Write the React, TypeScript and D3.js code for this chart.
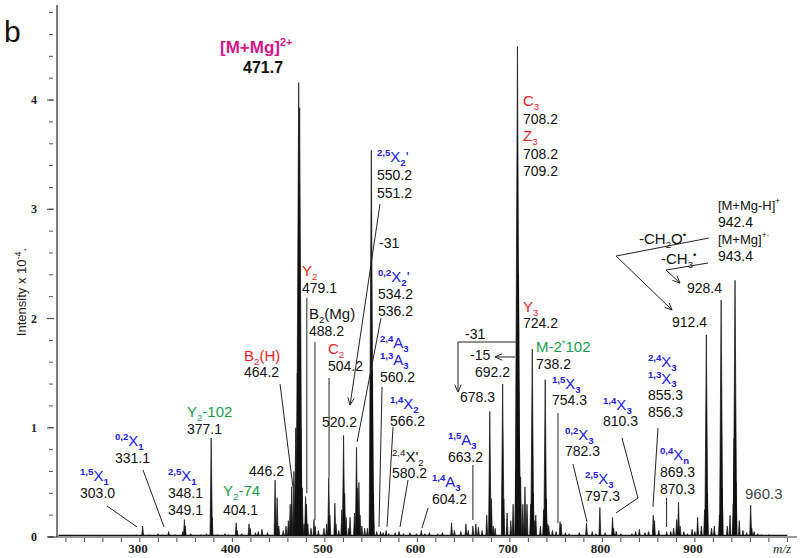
import React from "react";
import * as d3 from "d3";

const W = 800;
const H = 558;

// ---------- data (m/z, intensity x 10^-4) ----------
const majorPeaks: [number, number][] = [
  [303.0, 0.10], [319.5, 0.03], [331.1, 0.05], [346.5, 0.05], [348.1, 0.16], [349.1, 0.10],
  [377.1, 0.906], [378.1, 0.18], [404.1, 0.13], [405.1, 0.06], [418.0, 0.12], [419.2, 0.08],
  [432.0, 0.07], [446.2, 0.52], [448.4, 0.36], [450.2, 0.10], [460.5, 0.15], [462.5, 0.30],
  [464.2, 0.46], [466.5, 0.6], [468.5, 1.0], [470.2, 1.5], [471.7, 4.16], [472.7, 3.93],
  [474.0, 1.0], [475.5, 0.45], [477.5, 0.12], [479.1, 0.37], [480.1, 0.30], [481.5, 0.12],
  [488.2, 0.16], [489.5, 0.10], [502.0, 0.12], [504.2, 0.54], [505.4, 0.20], [510.8, 0.31],
  [512.0, 0.12], [518.3, 0.25], [520.2, 0.93], [521.4, 0.40], [523.0, 0.18], [527.2, 0.18],
  [532.0, 0.22], [534.2, 0.82], [535.4, 0.45], [536.8, 0.50], [538.0, 0.20], [546.0, 0.08],
  [549.0, 0.30], [550.2, 3.54], [551.2, 1.5], [552.5, 0.40], [560.2, 0.05], [566.2, 0.06],
  [580.2, 0.05], [604.2, 0.06], [637.0, 0.13], [652.5, 0.12], [660.0, 0.10], [663.2, 0.12],
  [666.0, 0.09], [675.0, 0.20], [678.3, 1.15], [680.0, 0.35], [682.0, 0.10], [692.2, 1.4],
  [693.4, 0.35], [697.0, 0.22], [703.5, 0.30], [706.5, 0.6], [707.3, 1.0], [708.2, 4.49],
  [709.2, 2.4], [710.3, 0.9], [711.6, 0.55], [714.0, 0.30], [716.3, 0.46], [718.5, 0.30],
  [722.5, 0.30], [724.2, 1.72], [725.3, 0.40], [727.0, 0.15], [736.5, 0.25], [738.2, 1.44],
  [739.4, 0.35], [741.0, 0.12], [754.3, 0.14], [755.3, 0.12], [782.8, 0.13], [797.3, 0.27],
  [811.0, 0.18], [812.2, 0.08], [840.0, 0.07], [855.0, 0.20], [856.3, 0.15], [869.5, 0.05],
  [880.3, 0.16], [882.3, 0.32], [884.0, 0.10], [897.0, 0.07], [903.0, 0.18], [910.5, 0.25],
  [912.4, 1.85], [913.5, 0.40], [926.5, 0.20], [928.4, 2.17], [929.5, 0.45], [941.5, 0.30],
  [942.4, 0.9], [943.4, 2.35], [944.5, 0.50], [960.3, 0.29], [961.5, 0.08],
];

const noisePeaks: [number, number][] = [
  [225, 0.01], [240, 0.012], [256, 0.01], [270, 0.015], [285, 0.012], [296, 0.02], [310, 0.02],
  [315, 0.015], [324, 0.02], [338, 0.02], [355, 0.03], [366, 0.02], [372, 0.03], [384, 0.02],
  [392, 0.03], [396, 0.02], [410, 0.03], [425, 0.04], [428, 0.05], [438, 0.04], [455, 0.06],
  [458, 0.1], [485, 0.08], [493, 0.06], [499, 0.08], [515, 0.06], [526, 0.08], [540, 0.1],
  [543, 0.08], [556, 0.05], [563, 0.04], [569, 0.03], [576, 0.04], [585, 0.03], [592, 0.04],
  [599, 0.03], [608, 0.03], [613, 0.04], [622, 0.03], [627, 0.04], [640, 0.06], [647, 0.05],
  [655, 0.06], [670, 0.06], [684, 0.08], [701, 0.15], [728, 0.2], [733, 0.1], [742, 0.1],
  [746, 0.06], [750, 0.05], [760, 0.04], [764, 0.03], [775, 0.04], [789, 0.05], [793, 0.03],
  [803, 0.04], [815, 0.05], [820, 0.03], [832, 0.03], [836, 0.05], [846, 0.04], [850, 0.05],
  [861, 0.06], [874, 0.05], [877, 0.08], [888, 0.05], [892, 0.03], [900, 0.05], [907, 0.1],
  [918, 0.08], [921, 0.1], [935, 0.1], [938, 0.2], [948, 0.15], [952, 0.06], [956, 0.04],
  [964, 0.05], [968, 0.03], [972, 0.02], [980, 0.02], [990, 0.01],
];

const xMajorTicks = [300, 400, 500, 600, 700, 800, 900];
const xMinorTicks = d3.range(220, 1001, 20);
const yMajorTicks = [0, 1, 2, 3, 4];
const yMinorTicks = d3.range(0, 4.81, 0.2);

// annotation text blocks: left m/z, intensity of first line centre, line gap (px), lines
type Line = [string, string];
type Block = { mz: number; v: number; gap?: number; lines: Line[] };
const labelBlocks: Block[] = [
  { mz: 386.6, v: 4.485, lines: [["[M+Mg]^{2+}", "mag"]] },
  { mz: 411.5, v: 4.300, lines: [["471.7", "bold"]] },
  { mz: 714.2, v: 3.991, gap: 17.5, lines: [["C_{3}", "red"], ["708.2", "num"], ["Z_{3}", "red"], ["708.2", "num"], ["709.2", "num"]] },
  { mz: 556.3, v: 3.479, gap: 18, lines: [["^{2,5}X_{2}'", "blue"], ["550.2", "num"], ["551.2", "num"]] },
  { mz: 558.5, v: 2.691, lines: [["-31", "num"]] },
  { mz: 557.4, v: 2.380, gap: 17, lines: [["^{0,2}X_{2}'", "blue"], ["534.2", "num"], ["536.2", "num"]] },
  { mz: 559.6, v: 1.776, gap: 17, lines: [["^{2,4}A_{3}", "blue"], ["^{1,3}A_{3}", "blue"], ["560.2", "num"]] },
  { mz: 475.3, v: 2.435, gap: 16.5, lines: [["Y_{2}", "red"], ["479.1", "num"]] },
  { mz: 482.8, v: 2.041, gap: 17, lines: [["B_{2}(Mg)", "black"], ["488.2", "num"]] },
  { mz: 412.6, v: 1.657, gap: 16, lines: [["B_{2}(H)", "red"], ["464.2", "num"]] },
  { mz: 503.4, v: 1.721, gap: 17, lines: [["C_{2}", "red"], ["504.2", "num"]] },
  { mz: 496.9, v: 1.053, lines: [["520.2", "num"]] },
  { mz: 570.4, v: 1.217, gap: 17, lines: [["^{1,4}X_{2}", "blue"], ["566.2", "num"]] },
  { mz: 572.6, v: 0.732, gap: 15.5, lines: [["^{2,4}X'_{2}", "black"], ["580.2", "num"]] },
  { mz: 633.1, v: 0.888, gap: 17, lines: [["^{1,5}A_{3}", "blue"], ["663.2", "num"]] },
  { mz: 615.8, v: 0.503, gap: 17, lines: [["^{1,4}A_{3}", "blue"], ["604.2", "num"]] },
  { mz: 646.1, v: 1.282, lines: [["678.3", "num"]] },
  { mz: 651.5, v: 1.858, lines: [["-31", "num"]] },
  { mz: 656.9, v: 1.666, lines: [["-15", "num"]] },
  { mz: 662.3, v: 1.510, lines: [["692.2", "num"]] },
  { mz: 714.2, v: 2.105, gap: 16, lines: [["Y_{3}", "red"], ["724.2", "num"]] },
  { mz: 728.2, v: 1.739, gap: 17, lines: [["M-2^{*}102", "green"], ["738.2", "num"]] },
  { mz: 745.5, v: 1.401, gap: 16, lines: [["^{1,5}X_{3}", "blue"], ["754.3", "num"]] },
  { mz: 759.6, v: 0.934, gap: 16, lines: [["^{0,2}X_{3}", "blue"], ["782.3", "num"]] },
  { mz: 781.2, v: 0.531, gap: 17, lines: [["^{2,5}X_{3}", "blue"], ["797.3", "num"]] },
  { mz: 800.7, v: 1.208, gap: 16, lines: [["^{1,4}X_{3}", "blue"], ["810.3", "num"]] },
  { mz: 849.3, v: 1.602, gap: 16.7, lines: [["^{2,4}X_{3}", "blue"], ["^{1,3}X_{3}", "blue"], ["855.3", "num"], ["856.3", "num"]] },
  { mz: 862.3, v: 0.751, gap: 17, lines: [["^{0,4}X_{n}", "blue"], ["869.3", "num"], ["870.3", "num"]] },
  { mz: 954.2, v: 0.394, lines: [["960.3", "gray"]] },
  { mz: 875.3, v: 1.968, lines: [["912.4", "num"]] },
  { mz: 891.5, v: 2.279, lines: [["928.4", "num"]] },
  { mz: 924.9, v: 3.039, gap: 17, lines: [["[M+Mg-H]^{+}", "small"], ["942.4", "num"], ["[M+Mg]^{+·}", "small"], ["943.4", "num"]] },
  { mz: 839.6, v: 2.728, lines: [["-CH_{2}O^{•}", "black"]] },
  { mz: 863.4, v: 2.545, lines: [["-CH_{3}^{•}", "black"]] },
  { mz: 235.3, v: 0.558, gap: 17, lines: [["^{1,5}X_{1}", "blue"], ["303.0", "num"]] },
  { mz: 273.1, v: 0.879, gap: 17, lines: [["^{0,2}X_{1}", "blue"], ["331.1", "num"]] },
  { mz: 330.4, v: 0.558, gap: 17, lines: [["^{2,5}X_{1}", "blue"], ["348.1", "num"], ["349.1", "num"]] },
  { mz: 350.9, v: 1.144, gap: 17, lines: [["Y_{2}-102", "green"], ["377.1", "num"]] },
  { mz: 389.9, v: 0.421, gap: 19, lines: [["Y_{2}-74", "green"], ["404.1", "num"]] },
  { mz: 418.0, v: 0.604, lines: [["446.2", "num"]] },
];

type Leader = { pts: [number, number][]; arrow?: boolean };
const leaders: Leader[] = [
  { pts: [[264.5, 0.284], [296.9, 0.092]] },
  { pts: [[303.4, 0.613], [326.1, 0.092]] },
  { pts: [[451.5, 1.401], [465.5, 0.458]] },
  { pts: [[480.5, 2.188], [480.5, 0.40]] },
  { pts: [[489.3, 1.785], [489.3, 0.156]] },
  { pts: [[504.5, 1.456], [504.5, 0.54]] },
  { pts: [[559.6, 3.048], [527.2, 1.208]], arrow: true },
  { pts: [[560.7, 2.005], [534.8, 0.870]] },
  { pts: [[561.8, 1.373], [558.5, 0.092]] },
  { pts: [[573.7, 1.007], [567.2, 0.092]] },
  { pts: [[589.9, 0.522], [581.2, 0.092]] },
  { pts: [[611.5, 0.265], [605.0, 0.082]] },
  { pts: [[660.0, 0.659], [660.0, 0.156]] },
  { pts: [[708.2, 1.785], [643.9, 1.785], [643.9, 1.327]], arrow: true },
  { pts: [[705.5, 1.648], [683.9, 1.648]], arrow: true },
  { pts: [[752.0, 1.135], [752.0, 0.128]] },
  { pts: [[768.2, 0.668], [783.4, 0.137]] },
  { pts: [[821.2, 0.906], [838.5, 0.357], [814.7, 0.220]] },
  { pts: [[860.1, 0.998], [854.7, 0.275]] },
  { pts: [[869.4, 0.357], [869.4, 0.092]] },
  { pts: [[915.3, 2.737], [814.8, 2.572], [875.3, 2.078]], arrow: true },
  { pts: [[914.2, 2.508], [868.8, 2.444], [883.9, 2.325]], arrow: true },
];

// ---------- styling ----------
const FONT = "Arial, 'Liberation Sans', Helvetica, sans-serif";
const SERIF = "'Times New Roman', 'Liberation Serif', serif";
const BLUE = "#2020e8";
const RED = "#ee1c1c";
const GREEN = "#14a050";
const MAG = "#d4148c";

const STYLES: Record<string, { size: number; color: string; weight: number; subWeight: number }> = {
  num: { size: 14, color: "#111", weight: 400, subWeight: 400 },
  blue: { size: 15, color: BLUE, weight: 400, subWeight: 700 },
  red: { size: 15, color: RED, weight: 400, subWeight: 400 },
  green: { size: 15, color: GREEN, weight: 400, subWeight: 400 },
  black: { size: 15, color: "#111", weight: 400, subWeight: 400 },
  small: { size: 13, color: "#111", weight: 400, subWeight: 400 },
  mag: { size: 17, color: MAG, weight: 700, subWeight: 700 },
  bold: { size: 16, color: "#111", weight: 700, subWeight: 700 },
  gray: { size: 15, color: "#444", weight: 400, subWeight: 400 },
};

type Seg = { t: string; k: "n" | "sup" | "sub" };
function parse(s: string): Seg[] {
  const out: Seg[] = [];
  const re = /\^\{([^}]*)\}|_\{([^}]*)\}|([^\^_]+)/g;
  let m: RegExpExecArray | null;
  while ((m = re.exec(s))) {
    if (m[1] !== undefined) out.push({ t: m[1], k: "sup" });
    else if (m[2] !== undefined) out.push({ t: m[2], k: "sub" });
    else out.push({ t: m[3], k: "n" });
  }
  return out;
}

function Rich({ x, y, text, style }: { x: number; y: number; text: string; style: string }) {
  const st = STYLES[style];
  const segs = parse(text);
  let cur = 0;
  return (
    <text x={x} y={y} fontFamily={FONT} fontSize={st.size} fill={st.color} fontWeight={st.weight}>
      {segs.map((s, i) => {
        const target = s.k === "sup" ? -0.4 * st.size : s.k === "sub" ? 0.22 * st.size : 0;
        const dy = target - cur;
        cur = target;
        const fs = s.k === "n" ? st.size : st.size * 0.64;
        return (
          <tspan key={i} dy={dy} fontSize={fs} fontWeight={s.k === "n" ? st.weight : st.subWeight}>
            {s.t}
          </tspan>
        );
      })}
    </text>
  );
}

export default function App() {
  const x = d3.scaleLinear().domain([210.4, 1010.4]).range([57, 797]);
  const y = d3.scaleLinear().domain([0, 4.87]).range([537, 5]);
  const base = 0.014;

  const line = d3.line<[number, number]>().x((d) => x(d[0])).y((d) => y(d[1]));
  const allPeaks = [...noisePeaks, ...majorPeaks];
  const peakPath = (p: [number, number]) => {
    const w = 0.9 + 0.4 * Math.min(p[1], 4);
    return line([[p[0] - w, base], [p[0], p[1]], [p[0] + w, base]]) + "Z";
  };

  const arrowHead = (pts: [number, number][]) => {
    const a = pts[pts.length - 2];
    const b = pts[pts.length - 1];
    const x1 = x(a[0]), y1 = y(a[1]), x2 = x(b[0]), y2 = y(b[1]);
    const ang = Math.atan2(y2 - y1, x2 - x1);
    const s = 8, h = 0.42;
    return `M${x2 - s * Math.cos(ang - h)},${y2 - s * Math.sin(ang - h)}L${x2},${y2}L${x2 - s * Math.cos(ang + h)},${y2 - s * Math.sin(ang + h)}`;
  };

  return (
    <svg width={W} height={H} style={{ position: "absolute", left: 0, top: 0, background: "#fff" }}>
      <rect width={W} height={H} fill="#fff" />
      <text x={4} y={42} fontFamily={FONT} fontSize={30} fill="#111">b</text>

      {/* y axis */}
      <line x1={57} x2={57} y1={y(4.87)} y2={y(0)} stroke="#555" strokeWidth={1.5} />
      {yMinorTicks.map((t, i) => (
        <line key={"ym" + i} x1={49} x2={53} y1={y(t)} y2={y(t)} stroke="#555" strokeWidth={1} />
      ))}
      {yMajorTicks.map((t) => (
        <g key={"yM" + t}>
          <line x1={47} x2={54} y1={y(t)} y2={y(t)} stroke="#555" strokeWidth={1.2} />
          <text x={34} y={y(t) + 4} textAnchor="middle" fontFamily={SERIF} fontWeight={700} fontSize={12} fill="#222">{t}</text>
        </g>
      ))}
      <text transform={`translate(26,292) rotate(-90)`} textAnchor="middle" fontFamily={FONT} fontSize={13} fill="#222">
        Intensity x 10<tspan dy={-5} fontSize={9}>-4</tspan><tspan dy={5}>.</tspan>
      </text>

      {/* x axis */}
      <line x1={48} x2={797} y1={y(0)} y2={y(0)} stroke="#333" strokeWidth={1} />
      {xMinorTicks.map((t) => (
        <line key={"xm" + t} x1={x(t)} x2={x(t)} y1={y(0) + 1} y2={y(0) + 5} stroke="#444" strokeWidth={1} />
      ))}
      {xMajorTicks.map((t) => (
        <text key={"xl" + t} x={x(t) - 2} y={553} textAnchor="middle" fontFamily={SERIF} fontWeight={700} fontSize={13} fill="#222">{t}</text>
      ))}
      <text x={773} y={553} fontFamily={SERIF} fontStyle="italic" fontSize={13} fill="#222">m/z</text>

      {/* spectrum */}
      <path d={line([[212, base], [1000, base]]) || ""} stroke="#111" strokeWidth={1.2} fill="none" />
      {allPeaks.map((p, i) => (
        <path key={"p" + i} d={peakPath(p)} fill="#111" stroke="#111" strokeWidth={0.7} strokeLinejoin="round" />
      ))}

      {/* leader lines */}
      {leaders.map((l, i) => (
        <g key={"ld" + i}>
          <path d={line(l.pts) || ""} fill="none" stroke="#222" strokeWidth={1} />
          {l.arrow && <path d={arrowHead(l.pts)} fill="none" stroke="#222" strokeWidth={1} />}
        </g>
      ))}

      {/* labels */}
      {labelBlocks.map((b, i) =>
        b.lines.map((ln, j) => {
          const st = STYLES[ln[1]];
          return (
            <Rich key={`lb${i}-${j}`} x={x(b.mz)} y={y(b.v) + j * (b.gap ?? 17) + 0.36 * st.size} text={ln[0]} style={ln[1]} />
          );
        })
      )}
    </svg>
  );
}
